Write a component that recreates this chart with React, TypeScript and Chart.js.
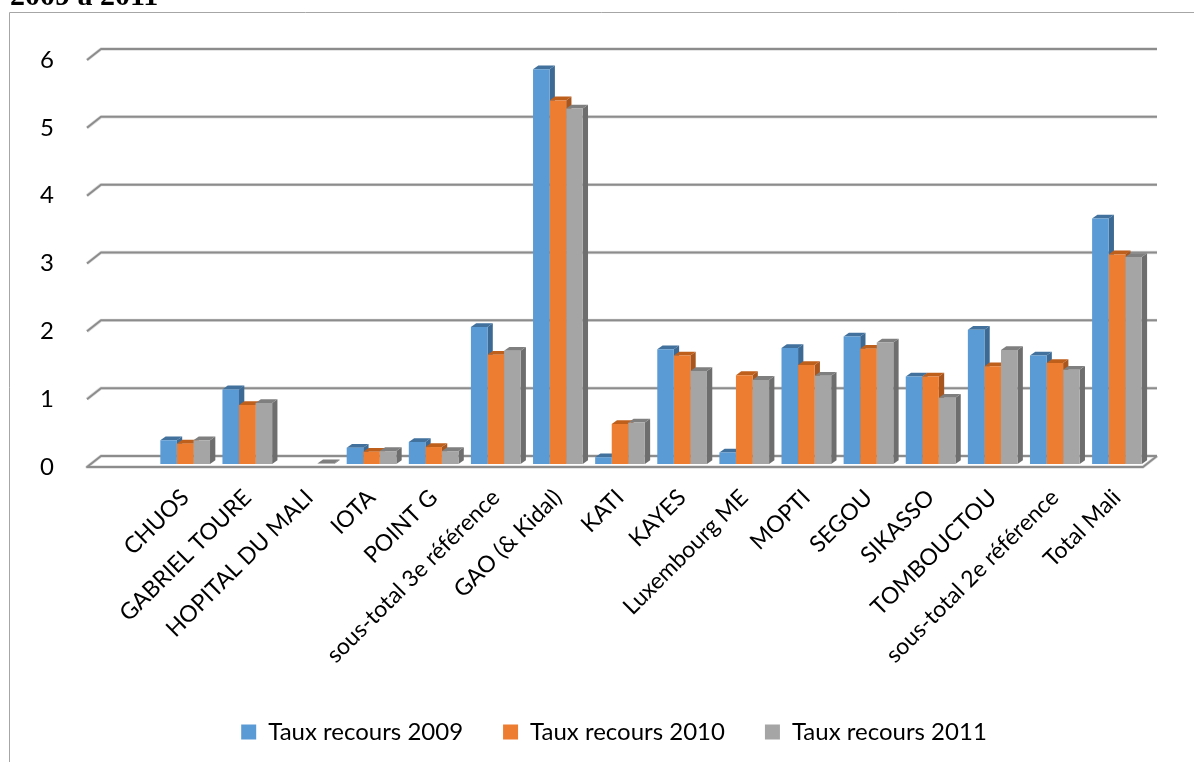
import React, { useEffect, useRef } from "react";
import { Chart, registerables } from "chart.js";

Chart.register(...registerables);

const categories = ["", "CHUOS", "GABRIEL TOURE", "HOPITAL DU MALI", "IOTA", "POINT G", "sous-total 3e référence", "GAO (& Kidal)", "KATI", "KAYES", "Luxembourg ME", "MOPTI", "SEGOU", "SIKASSO", "TOMBOUCTOU", "sous-total 2e référence", "Total Mali"];
const taux2009 = [null, 0.35, 1.1, null, 0.24, 0.325, 2.02, 5.82, 0.1, 1.69, 0.17, 1.71, 1.88, 1.29, 1.98, 1.6, 3.62];
const taux2010 = [null, 0.3, 0.87, null, 0.18, 0.25, 1.61, 5.36, 0.59, 1.6, 1.31, 1.46, 1.7, 1.29, 1.44, 1.49, 3.09];
const taux2011 = [null, 0.35, 0.9, 0.01, 0.19, 0.19, 1.67, 5.24, 0.61, 1.37, 1.24, 1.3, 1.79, 0.975, 1.68, 1.39, 3.05];
const seriesNames = ["Taux recours 2009", "Taux recours 2010", "Taux recours 2011"];
const frontColors = ["#5B9BD5", "#ED7D31", "#A5A5A5"];
const sideColors = ["#3C6A94", "#A8561E", "#6E6E6E"];
const topColors = ["#41719C", "#BE5F1C", "#7F7F7F"];
const titleText = "2009 à 2011";

const BAR_DX = 5.3;
const BAR_DY = 3.8;
const font = "Lato";

const poly = (ctx: CanvasRenderingContext2D, pts: number[][], color: string) => {
  ctx.fillStyle = color;
  ctx.beginPath();
  pts.forEach(([x, y], i) => (i ? ctx.lineTo(x, y) : ctx.moveTo(x, y)));
  ctx.closePath();
  ctx.fill();
};

const scene3d = {
  id: "scene3d",
  afterLayout(chart: any) {
    chart.scales.y.left = 20;
  },
  beforeDraw(chart: any) {
    const { ctx } = chart;
    ctx.save();
    ctx.strokeStyle = "#A6A6A6";
    ctx.lineWidth = 1;
    ctx.beginPath();
    ctx.moveTo(1194, 12.5);
    ctx.lineTo(9.5, 12.5);
    ctx.lineTo(9.5, 762);
    ctx.stroke();
    ctx.restore();
  },
  beforeDatasetsDraw(chart: any) {
    const { ctx, chartArea, scales } = chart;
    const { left, right } = chartArea;
    ctx.save();
    ctx.lineJoin = "round";
    scales.y.ticks.forEach((t: any) => {
      const y = scales.y.getPixelForValue(t.value);
      const line = () => {
        ctx.beginPath();
        if (t.value === 0) {
          ctx.moveTo(right + 9, y - 8);
          ctx.lineTo(right - 5, y + 3);
          ctx.lineTo(left - 5, y + 3);
          ctx.lineTo(left + 9, y - 8);
          ctx.lineTo(right + 9, y - 8);
        } else {
          ctx.moveTo(left - 5, y + 3);
          ctx.lineTo(left + 9, y - 8);
          ctx.lineTo(right + 9, y - 8);
        }
        ctx.stroke();
      };
      ctx.strokeStyle = "#DDDDDD";
      ctx.lineWidth = 3.4;
      line();
      ctx.strokeStyle = "#8C8C8C";
      ctx.lineWidth = 2;
      line();
    });
    chart.data.datasets.forEach((ds: any, d: number) => {
      chart.getDatasetMeta(d).data.forEach((bar: any, j: number) => {
        if (ds.data[j] == null) return;
        const r = bar.x + bar.width / 2;
        const l = bar.x - bar.width / 2;
        poly(ctx, [[r, bar.y], [r + BAR_DX, bar.y - BAR_DY], [r + BAR_DX, bar.base - BAR_DY], [r, bar.base]], sideColors[d]);
        poly(ctx, [[l, bar.y], [l + BAR_DX, bar.y - BAR_DY], [r + BAR_DX, bar.y - BAR_DY], [r, bar.y]], topColors[d]);
      });
    });
    ctx.restore();
  },
};

export default function App() {
  const ref = useRef<HTMLCanvasElement>(null);
  useEffect(() => {
    document.body.style.margin = "0";
    const chart = new Chart(ref.current!, {
      type: "bar",
      data: {
        labels: categories,
        datasets: [taux2009, taux2010, taux2011].map((data, i) => ({
          label: seriesNames[i],
          data,
          backgroundColor: frontColors[i],
          categoryPercentage: 0.8,
          barPercentage: 1,
        })),
      },
      plugins: [scene3d],
      options: {
        animation: false,
        responsive: false,
        layout: { padding: { left: 80, right: 46, top: 57, bottom: 8 } },
        plugins: {
          tooltip: { enabled: false },
          legend: {
            position: "bottom",
            labels: {
              boxWidth: 15,
              boxHeight: 15,
              padding: 40,
              color: "#000",
              font: { family: font, size: 24 },
            },
          },
        },
        scales: {
          x: {
            grid: { display: false },
            border: { display: false },
            afterFit: (s: any) => { s.height = 216; },
            ticks: {
              autoSkip: false,
              minRotation: 45,
              maxRotation: 45,
              padding: 12,
              color: "#000",
              font: { family: font, size: 23 },
            },
          },
          y: {
            min: 0,
            max: 6,
            grid: { display: false },
            border: { display: false },
            afterFit: (s: any) => { s.width = 12; },
            ticks: {
              stepSize: 1,
              padding: 30,
              labelOffset: 3,
              color: "#000",
              font: { family: font, size: 24 },
            },
          },
        },
      },
    } as any);
    return () => chart.destroy();
  }, []);
  return (
    <div style={{ position: "fixed", left: 0, top: 0, width: 1194, height: 762, overflow: "hidden", background: "#fff" }}>
      <canvas ref={ref} width={1194} height={762} style={{ display: "block" }} />
      <div style={{ position: "absolute", left: 10, top: -22, font: "bold 30px 'Liberation Serif'", color: "#000", whiteSpace: "nowrap" }}>{titleText}</div>
    </div>
  );
}
